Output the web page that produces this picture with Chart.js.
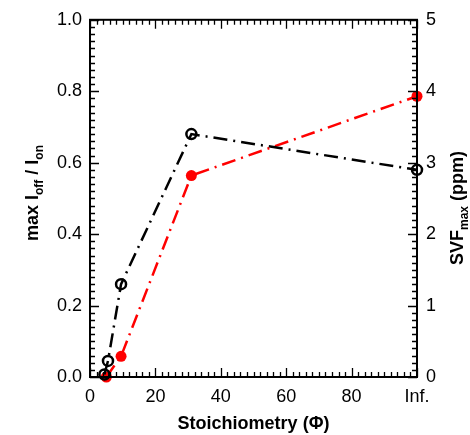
<!DOCTYPE html>
<html>
<head>
<meta charset="utf-8">
<script src="https://cdn.jsdelivr.net/npm/chart.js@4"></script>
<style>
  body { margin: 0; background: #fff; }
</style>
</head>
<body>
<canvas id="chart" width="470" height="435"></canvas>
<script>
// Black series: max Ioff/Ion (left axis)
const ratioX = [4.4, 5.5, 9.5, 31, 100];
const ratioY = [0.007, 0.045, 0.26, 0.68, 0.58];
// Red series: SVF max in ppm (right axis)
const svfX = [5, 9.5, 31, 100];
const svfY = [0, 0.29, 2.82, 3.93];
// Tick values
const xTicks = [0, 20, 40, 60, 80, 100];
const xLabels = ['0', '20', '40', '60', '80', 'Inf.'];

const FONT = '"Liberation Sans", Arial, Helvetica, sans-serif';

function toPoints(xs, ys) {
  return xs.map((x, i) => ({ x: x, y: ys[i] }));
}

// frame + inward ticks + rotated titles with subscripts
const framePlugin = {
  id: 'frame',
  afterDraw(chart) {
    const c = chart.ctx;
    const a = chart.chartArea;
    const sx = chart.scales.x, sy = chart.scales.y, sy2 = chart.scales.y2;
    c.save();
    c.strokeStyle = '#000';
    c.lineWidth = 2;
    c.strokeRect(a.left, a.top, a.right - a.left, a.bottom - a.top);

    c.lineWidth = 1.3;
    c.beginPath();
    // x ticks, bottom and top
    for (let v = 0; v <= 100; v += 2) {
      const px = Math.round(sx.getPixelForValue(v)) + 0.5;
      const len = v % 20 === 0 ? 9 : 5;
      c.moveTo(px, a.bottom); c.lineTo(px, a.bottom - len);
      c.moveTo(px, a.top); c.lineTo(px, a.top + len);
    }
    // left ticks
    for (let i = 0; i <= 50; i++) {
      const py = Math.round(sy.getPixelForValue(i * 0.02)) + 0.5;
      const len = i % 10 === 0 ? 9 : 5;
      c.moveTo(a.left, py); c.lineTo(a.left + len, py);
    }
    // right ticks
    for (let i = 0; i <= 50; i++) {
      const py = Math.round(sy2.getPixelForValue(i * 0.1)) + 0.5;
      const len = i % 10 === 0 ? 9 : 5;
      c.moveTo(a.right, py); c.lineTo(a.right - len, py);
    }
    c.stroke();

    // rotated titles with subscripts
    function drawTitle(parts, baseX, cy) {
      c.save();
      c.fillStyle = '#000';
      c.textBaseline = 'alphabetic';
      c.textAlign = 'left';
      let total = 0;
      parts.forEach(p => {
        c.font = 'bold ' + (p.sub ? 12 : 18) + 'px ' + FONT;
        p.w = c.measureText(p.t).width;
        total += p.w;
      });
      c.translate(baseX, cy);
      c.rotate(-Math.PI / 2);
      let x = -total / 2;
      parts.forEach(p => {
        c.font = 'bold ' + (p.sub ? 12 : 18) + 'px ' + FONT;
        c.fillText(p.t, x, p.sub ? 5 : 0);
        x += p.w;
      });
      c.restore();
    }
    drawTitle([{ t: 'max I' }, { t: 'off', sub: true }, { t: ' / I' }, { t: 'on', sub: true }], 38, 193);
    drawTitle([{ t: 'SVF' }, { t: 'max', sub: true }, { t: ' (ppm)' }], 463, 208);
    c.restore();
  }
};

const ctx = document.getElementById('chart').getContext('2d');

const chart = new Chart(ctx, {
  type: 'scatter',
  data: {
    datasets: [{
      label: 'max Ioff/Ion',
      data: toPoints(ratioX, ratioY),
      showLine: true,
      yAxisID: 'y',
      borderColor: '#000',
      borderWidth: 2.5,
      borderDash: [14, 6, 2, 6],
      pointRadius: 5,
      pointBorderWidth: 2.5,
      pointBackgroundColor: 'rgba(255,255,255,0)',
      pointBorderColor: '#000',
      clip: false
    },
    {
      label: 'SVF max',
      data: toPoints(svfX, svfY),
      showLine: true,
      yAxisID: 'y2',
      borderColor: '#ff0000',
      borderWidth: 2.5,
      borderDash: [14, 6, 2, 6],
      pointRadius: 5.5,
      pointBorderWidth: 0,
      pointBackgroundColor: '#ff0000',
      pointBorderColor: '#ff0000',
      clip: false
    }]
  },
  options: {
    responsive: false,
    animation: false,
    layout: { padding: { top: 17, left: 0, right: 0, bottom: 0 } },
    plugins: {
      legend: { display: false },
      tooltip: { enabled: false }
    },
    scales: {
      x: {
        type: 'linear',
        min: 0,
        max: 100,
        afterFit: s => { s.height = 58; },
        afterBuildTicks: s => { s.ticks = xTicks.map(v => ({ value: v })); },
        grid: { display: false, drawTicks: false },
        border: { display: false },
        ticks: {
          padding: 9,
          color: '#000',
          font: { family: FONT, size: 18 },
          maxRotation: 0,
          callback: v => xLabels[xTicks.indexOf(v)]
        },
        title: {
          display: true,
          text: 'Stoichiometry (Φ)',
          color: '#000',
          font: { family: FONT, size: 18, weight: 'bold' },
          padding: { top: 1, bottom: 0 }
        }
      },
      y: {
        position: 'left',
        min: 0,
        max: 1,
        afterFit: s => { s.width = 90; },
        grid: { display: false, drawTicks: false },
        border: { display: false },
        ticks: {
          stepSize: 0.2,
          padding: 8,
          color: '#000',
          font: { family: FONT, size: 18 },
          callback: v => v.toFixed(1)
        }
      },
      y2: {
        position: 'right',
        min: 0,
        max: 5,
        afterFit: s => { s.width = 53; },
        grid: { display: false, drawTicks: false },
        border: { display: false },
        ticks: {
          stepSize: 1,
          padding: 9,
          color: '#000',
          font: { family: FONT, size: 18 }
        }
      }
    }
  },
  plugins: [framePlugin]
});
</script>
</body>
</html>
